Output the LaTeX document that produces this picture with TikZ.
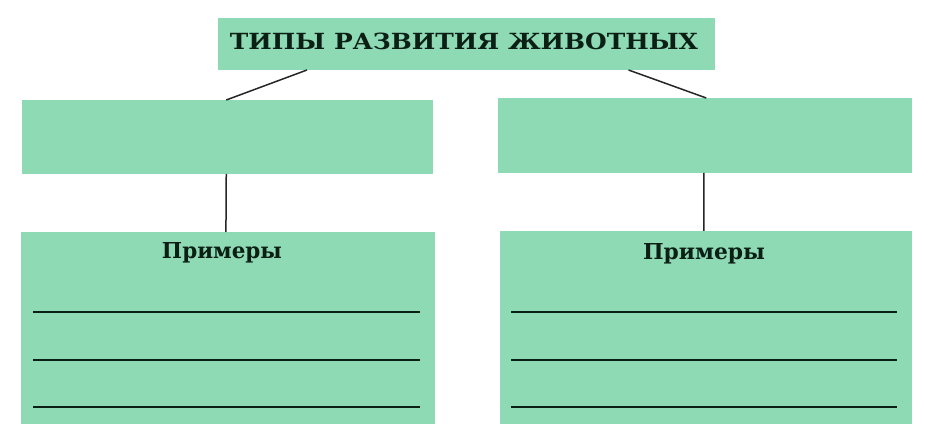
\documentclass[tikz,border=0pt]{standalone}
\usepackage{fontspec}
\setmainfont{DejaVu Serif}
\usetikzlibrary{calc}
\definecolor{boxgreen}{HTML}{8DDAB5}
\definecolor{inkdark}{HTML}{0C1F15}
\definecolor{linkgray}{HTML}{262626}
\tikzset{
  box/.style={fill=boxgreen, draw=none, inner sep=0pt, outer sep=0pt, anchor=north west},
  link/.style={draw=linkgray, line width=1.5pt},
  rule/.style={draw=inkdark, line width=2.1pt},
  lbl/.style={inner sep=0pt, anchor=base, text=inkdark, font=\bfseries}
}
\begin{document}
\begin{tikzpicture}[x=1pt,y=1pt]
\useasboundingbox[fill=white] (0,0) rectangle (940,-446);
% boxes
\node[box, minimum width=497pt, minimum height=52pt] (title) at (218,-18) {};
\node[box, minimum width=411pt, minimum height=74pt] (l1) at (22,-100) {};
\node[box, minimum width=414pt, minimum height=75pt] (r1) at (498,-98) {};
\node[box, minimum width=414pt, minimum height=192pt] (l2) at (21,-232) {};
\node[box, minimum width=412pt, minimum height=193pt] (r2) at (500,-231) {};
% texts
\node[lbl] (tt) at (464,-50) {\resizebox{468pt}{16.5pt}{ТИПЫ РАЗВИТИЯ ЖИВОТНЫХ}};
\node[lbl] (lp) at (222,-259) {\resizebox{120pt}{16pt}{Примеры}};
\node[lbl] (rp) at (704,-260) {\resizebox{122pt}{16pt}{Примеры}};
% connectors
\draw[link] ($(title.south west)!0.179!(title.south east)$) -- ($(l1.north west)!0.497!(l1.north east)$);
\draw[link] ($(title.south west)!0.826!(title.south east)$) -- ($(r1.north west)!0.503!(r1.north east)$);
\draw[link] ($(l1.south west)!0.497!(l1.south east)$) -- ($(l2.north west)!0.495!(l2.north east)$);
\draw[link] ($(r1.south west)!0.497!(r1.south east)$) -- ($(r2.north west)!0.495!(r2.north east)$);
% answer rules
\foreach \yy/\nm in {312/a,360/b,407/c}{
  \coordinate (la\nm) at (33,-\yy);
  \coordinate (lb\nm) at (420,-\yy);
  \coordinate (ra\nm) at (511,-\yy);
  \coordinate (rb\nm) at (897,-\yy);
  \draw[rule] (la\nm) -- (lb\nm);
  \draw[rule] (ra\nm) -- (rb\nm);
}
\end{tikzpicture}
\end{document}
